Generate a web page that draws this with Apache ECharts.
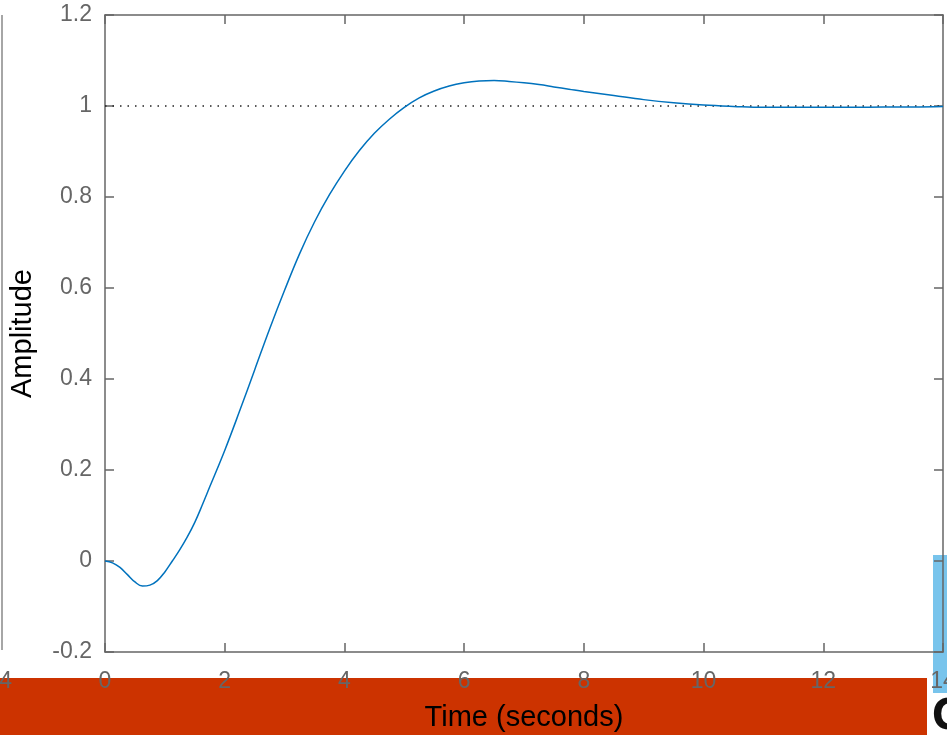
<!DOCTYPE html>
<html>
<head>
<meta charset="utf-8">
<title>Step Response</title>
<script src="https://cdn.jsdelivr.net/npm/echarts@6/dist/echarts.min.js"></script>
<style>
  html, body { margin: 0; padding: 0; background: #fff; }
  #chart { width: 947px; height: 735px; }
</style>
</head>
<body>
<div id="chart"></div>
<script>
// step response
const times = [0, 0.125, 0.25, 0.375, 0.5, 0.625, 0.75, 0.875, 1.0, 1.125, 1.25, 1.375, 1.5, 1.625, 1.75, 2.0, 2.25, 2.5, 2.75,
  3.0, 3.25, 3.5, 3.75, 4.0, 4.25, 4.5, 4.75, 5.0, 5.25, 5.5, 5.75, 6.0, 6.25, 6.5, 6.75, 7.0, 7.25,
  7.5, 7.75, 8.0, 8.5, 9.0, 9.5, 10, 10.5, 11, 11.5, 12, 12.5, 13, 13.5, 14]
const amplitude = [0, -0.004, -0.014, -0.03, -0.046, -0.055, -0.053, -0.043, -0.024, 0.0, 0.025, 0.053, 0.085, 0.123, 0.163, 0.243, 0.33, 0.42, 0.51,
  0.595, 0.675, 0.745, 0.805, 0.857, 0.902, 0.94, 0.971, 0.997, 1.018, 1.033, 1.044, 1.051, 1.055, 1.056, 1.054, 1.051, 1.047,
  1.042, 1.037, 1.032, 1.023, 1.014, 1.007, 1.002, 0.999, 0.997, 0.997, 0.997, 0.997, 0.998, 0.998, 0.999]
const finalValue = 1
const xTicks = [0, 2, 4, 6, 8, 10, 12, 14]
const yTicks = [-0.2, 0, 0.2, 0.4, 0.6, 0.8, 1, 1.2]

const font = '"Liberation Sans", Arial, sans-serif'
const frame = { show: true, onZero: false, lineStyle: { color: '#666', width: 1.5 } }
const inTick = { show: true, inside: true, length: 9, lineStyle: { color: '#666', width: 1.5 } }

let myChart = echarts.init(document.getElementById('chart'))
myChart.setOption({
  animation: false,
  grid: { left: 105, right: 4, top: 15, bottom: 83, outerBoundsMode: 'none' },
  xAxis: [
    {
      type: 'value', min: xTicks[0], max: xTicks[xTicks.length - 1], interval: 2,
      name: 'Time (seconds)', nameLocation: 'middle', nameGap: 51,
      nameTextStyle: { color: '#000', fontSize: 29, fontFamily: font },
      axisLine: frame, axisTick: inTick, splitLine: { show: false },
      axisLabel: { color: '#666', fontSize: 23, fontFamily: font, margin: 18 }
    },
    {
      type: 'value', min: xTicks[0], max: xTicks[xTicks.length - 1], interval: 2, position: 'top',
      axisLine: frame, axisTick: inTick, axisLabel: { show: false }, splitLine: { show: false }
    }
  ],
  yAxis: [
    {
      type: 'value', min: yTicks[0], max: yTicks[yTicks.length - 1], interval: 0.2,
      name: 'Amplitude', nameLocation: 'middle', nameGap: 68,
      nameTextStyle: { color: '#000', fontSize: 29, fontFamily: font },
      axisLine: frame, axisTick: inTick, splitLine: { show: false },
      axisLabel: {
        color: '#666', fontSize: 23, fontFamily: font, margin: 13,
        formatter: v => String(Math.round(v * 10) / 10)
      }
    },
    {
      type: 'value', min: yTicks[0], max: yTicks[yTicks.length - 1], interval: 0.2, position: 'right',
      axisLine: frame, axisTick: inTick, axisLabel: { show: false }, splitLine: { show: false }
    }
  ],
  series: [
    {
      name: 'final value',
      type: 'line',
      data: [[0, finalValue], [14, finalValue]],
      symbol: 'none',
      lineStyle: { color: '#222', width: 1.3, type: [1.5, 6] },
      z: 1
    },
    {
      name: 'step',
      type: 'line',
      data: times.map((t, i) => [t, amplitude[i]]),
      smooth: 0.4,
      symbol: 'none',
      lineStyle: { color: '#0072BD', width: 1.5 },
      z: 3
    }
  ],
  graphic: [
    { type: 'rect', z: -10, shape: { x: 0, y: 678, width: 927, height: 57 }, style: { fill: '#CC3300' } },
    { type: 'rect', z: -10, shape: { x: 933, y: 555, width: 14, height: 138 }, style: { fill: '#78C4EC' } },
    { type: 'line', shape: { x1: 2, y1: 15, x2: 2, y2: 650 }, style: { stroke: '#888', lineWidth: 1.5 } },
    { type: 'text', x: 12, y: 682, style: { text: '14', fill: '#666', font: '23px ' + font, textAlign: 'right', textVerticalAlign: 'middle' } },
    { type: 'text', x: 932, y: 718, style: { text: 'C', fill: '#111', font: 'bold 42px "Liberation Sans Narrow", "DejaVu Sans Condensed", sans-serif', textVerticalAlign: 'middle' } }
  ]
})
</script>
</body>
</html>
